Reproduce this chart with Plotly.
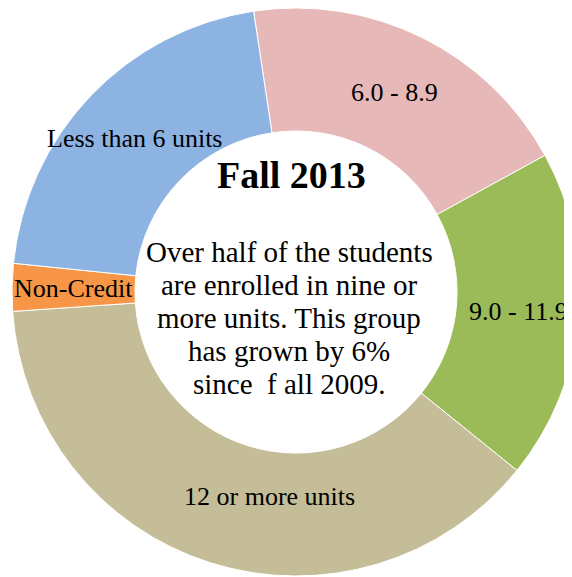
import math
import plotly.graph_objects as go

labels = ["6.0 - 8.9", "9.0 - 11.9", "12 or more units", "Non-Credit", "Less than 6 units"]
values = [19.4, 18.8, 38.1, 2.7, 21.0]
colors = ["#E6B8B7", "#9BBB59", "#C4BD97", "#F79646", "#8DB3E2"]

title_text = "Fall 2013"
center_lines = [
    "Over half of the students",
    "are enrolled in nine or",
    "more units. This group",
    "has grown by 6%",
    "since  f all 2009.",
]

# layout / style settings
ROTATION = -8.6
HOLE = 0.567
PIE_RADIUS_PX = 284          # half of the square plot area below
LABEL_RADIUS_FRAC = 0.785    # label distance from centre, relative to outer radius
label_nudge = {"12 or more units": (-10.0, -0.06)}  # (degrees, radius fraction)
SERIF = "Liberation Serif, Times New Roman, serif"

fig = go.Figure(go.Pie(
    labels=labels,
    values=values,
    sort=False,
    direction="clockwise",
    rotation=ROTATION,
    hole=HOLE,
    marker=dict(colors=colors, line=dict(color="white", width=1)),
    textinfo="none",
    showlegend=False,
    hoverinfo="label+percent",
))

# slice labels placed at each slice's middle angle (derived from the values)
total = sum(values)
cum = 0.0
for lab, v in zip(labels, values):
    mid = ROTATION + 360.0 * (cum + v / 2.0) / total
    cum += v
    dang, dr = label_nudge.get(lab, (0.0, 0.0))
    ang = math.radians(mid + dang)
    r = PIE_RADIUS_PX * (LABEL_RADIUS_FRAC + dr)
    fig.add_annotation(
        x=0.5, y=0.5, xref="paper", yref="paper",
        text=lab, showarrow=False,
        xshift=r * math.sin(ang), yshift=r * math.cos(ang),
        font=dict(family=SERIF, size=26, color="black"),
    )

fig.add_annotation(
    x=0.5, y=0.5, xref="paper", yref="paper",
    text="<b>" + title_text + "</b>",
    showarrow=False, yshift=117, xshift=-5,
    font=dict(family=SERIF, size=38, color="black"),
)
for i, line in enumerate(center_lines):
    fig.add_annotation(
        x=0.5, y=0.5, xref="paper", yref="paper",
        text=line,
        showarrow=False, yshift=40 - 33 * i, xshift=-7,
        font=dict(family=SERIF, size=29, color="black"),
    )

fig.update_layout(
    width=576, height=568,
    margin=dict(l=4, r=4, t=0, b=0),
    paper_bgcolor="white",
    plot_bgcolor="white",
)

fig.write_html("out.html")
